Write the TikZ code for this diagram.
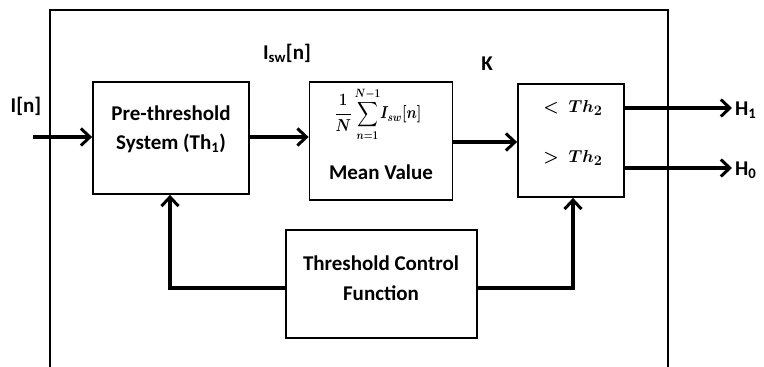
\documentclass[tikz,border=0pt]{standalone}
\usepackage{amsmath}
\usepackage{graphicx}
\usepackage{fontspec}
\setmainfont{Carlito}
\usetikzlibrary{arrows.meta}
\newsavebox{\meanbox}
\newsavebox{\lessbox}
\newsavebox{\greatbox}
\begin{document}
\sbox{\meanbox}{\scalebox{0.84}[1]{\fontsize{18.5}{22}\selectfont\boldmath$\displaystyle\frac{1}{N}\sum_{n=1}^{N-1}\! I_{sw}[n]$}}%
\sbox{\lessbox}{\fontsize{19}{22}\selectfont\boldmath$<\ Th_2$}%
\sbox{\greatbox}{\fontsize{19}{22}\selectfont\boldmath$>\ Th_2$}%
\begin{tikzpicture}[x=1pt,y=-1pt,
  blk/.style={draw,line width=1.8pt,inner sep=0pt},
  arr/.style={line width=3.5pt,-{Straight Barb[length=9pt,width=17pt,line width=3pt]}},
  lbl/.style={font=\fontsize{21}{24}\selectfont\bfseries,inner sep=0pt}]
\useasboundingbox (0,0) rectangle (764,367);
% outer frame
\draw[line width=1.8pt] (50,367) -- (50,10) -- (668,10) -- (668,367);
% blocks
\node[blk,minimum width=156pt,minimum height=112pt] (pre) at (171,138) {};
\node[blk,minimum width=143pt,minimum height=118pt] (mean) at (381,141) {};
\node[blk,minimum width=106pt,minimum height=113pt] (cmp) at (571,140.5) {};
\node[blk,minimum width=191pt,minimum height=108pt] (tcf) at (381.5,284) {};
% texts
\node[lbl] (t1) at (171,113) {Pre-threshold};
\node[lbl] (t2) at (171,143) {System (Th\textsubscript{1})};
\node[lbl] (fm) at (378,114) {\usebox{\meanbox}};
\node[lbl] (mv) at (381,172) {Mean Value};
\node[lbl] (c1) at (573,108) {\usebox{\lessbox}};
\node[lbl] (c2) at (573,158) {\usebox{\greatbox}};
\node[lbl] (t3) at (381,263) {Threshold Control};
\node[lbl] (t4) at (381,293) {Function};
\node[lbl] (in) at (26,106) {I[n]};
\node[lbl] (isw) at (287,53) {I\textsubscript{sw}[n]};
\node[lbl] (k) at (487,64) {K};
\node[lbl,anchor=west] (h1) at (735,110) {H\textsubscript{1}};
\node[lbl,anchor=west] (h0) at (735,170) {H\textsubscript{0}};
% connectors
\coordinate (s) at (33,137);
\coordinate (e1) at (732,108);
\coordinate (e0) at (732,168);
\coordinate (m) at (0,142);
\coordinate (fb) at (0,288);
\coordinate (xl) at (170,0);
\coordinate (xr) at (573,0);
\draw[arr] (s) -- (pre.west |- s);
\draw[arr] (pre.east |- s) -- (mean.west |- s);
\draw[arr] (mean.east |- m) -- (cmp.west |- m);
\draw[arr] (cmp.east |- e1) -- (e1);
\draw[arr] (cmp.east |- e0) -- (e0);
\draw[arr] (tcf.west |- fb) -| (xl |- pre.south);
\draw[arr] (tcf.east |- fb) -| (xr |- cmp.south);
\end{tikzpicture}
\end{document}
